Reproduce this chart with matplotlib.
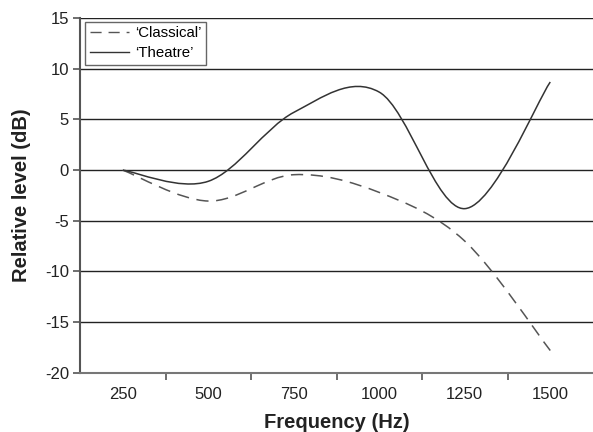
import numpy as np
import matplotlib.pyplot as plt
from matplotlib.path import Path
from matplotlib.patches import PathPatch
from matplotlib.lines import Line2D

plt.rcParams['font.family'] = ['Liberation Sans', 'DejaVu Sans']
plt.rcParams['axes.unicode_minus'] = False

# category axis (Excel style)
freqs = ['250', '500', '750', '1000', '1250', '1500']
classical = [0.0, -3.05, -0.45, -2.2, -7.0, -17.8]
theatre = [0.0, -1.1, 5.7, 7.7, -3.8, 8.7]


def smooth_path(ys):
    # Excel-like smoothed line: cubic Bezier through each point
    xs = np.arange(1, len(ys) + 1, dtype=float)
    pts = np.column_stack([xs, ys])
    n = len(pts)
    verts = [pts[0]]
    codes = [Path.MOVETO]
    for i in range(n - 1):
        p0 = pts[i - 1] if i > 0 else pts[i]
        p1 = pts[i]
        p2 = pts[i + 1]
        p3 = pts[i + 2] if i + 2 < n else pts[i + 1]
        c1 = p1 + (p2 - p0) / 6.0
        c2 = p2 - (p3 - p1) / 6.0
        verts += [c1, c2, p2]
        codes += [Path.CURVE4] * 3
    return Path(verts, codes)


fig = plt.figure(figsize=(5.93, 4.32), dpi=100)
ax = fig.add_axes([0.135, 0.137, 0.865, 0.821])

ax.set_xlim(0.5, 6.5)
ax.set_ylim(-20, 15)
ax.set_yticks(range(-20, 16, 5))
ax.yaxis.grid(True, color='#222222', linewidth=1.0)
ax.set_axisbelow(True)

ax.add_patch(PathPatch(smooth_path(classical), fill=False, edgecolor='#555555',
                       linewidth=1.1, linestyle=(0, (8, 5))))
ax.add_patch(PathPatch(smooth_path(theatre), fill=False, edgecolor='#333333',
                       linewidth=1.1))

ax.set_xticks(range(1, len(freqs) + 1))
ax.set_xticklabels(freqs)
ax.set_xticks(np.arange(1.5, len(freqs), 1.0), minor=True)
ax.tick_params(axis='x', which='major', length=0, pad=10, labelsize=12, colors='#222222')
ax.tick_params(axis='x', which='minor', length=5, width=1.2, direction='out', color='#555555')
ax.tick_params(axis='y', length=5, width=1.2, direction='out', color='#555555',
               labelsize=12, labelcolor='#222222', pad=3)

for s in ['top', 'right']:
    ax.spines[s].set_visible(False)
ax.spines['left'].set_color('#555555')
ax.spines['left'].set_linewidth(1.5)
ax.spines['bottom'].set_color('#777777')
ax.spines['bottom'].set_linewidth(1.5)

ax.set_xlabel('Frequency (Hz)', fontsize=14.5, fontweight='bold', color='#222222', labelpad=8)
ax.set_ylabel('Relative level (dB)', fontsize=14.5, fontweight='bold', color='#222222', labelpad=10)

handles = [Line2D([], [], color='#555555', lw=1.0, linestyle=(0, (8, 5))),
           Line2D([], [], color='#333333', lw=1.0)]
leg = ax.legend(handles, ['\u2018Classical\u2019', '\u2018Theatre\u2019'], loc='upper left',
                bbox_to_anchor=(0.003, 1.0), fancybox=False, framealpha=1, edgecolor='#666666',
                fontsize=10.8, handlelength=2.6, handletextpad=0.4, borderpad=0.3,
                labelspacing=0.4, borderaxespad=0.25)
leg.get_frame().set_linewidth(1.0)

fig.savefig('out.png', dpi=100)
